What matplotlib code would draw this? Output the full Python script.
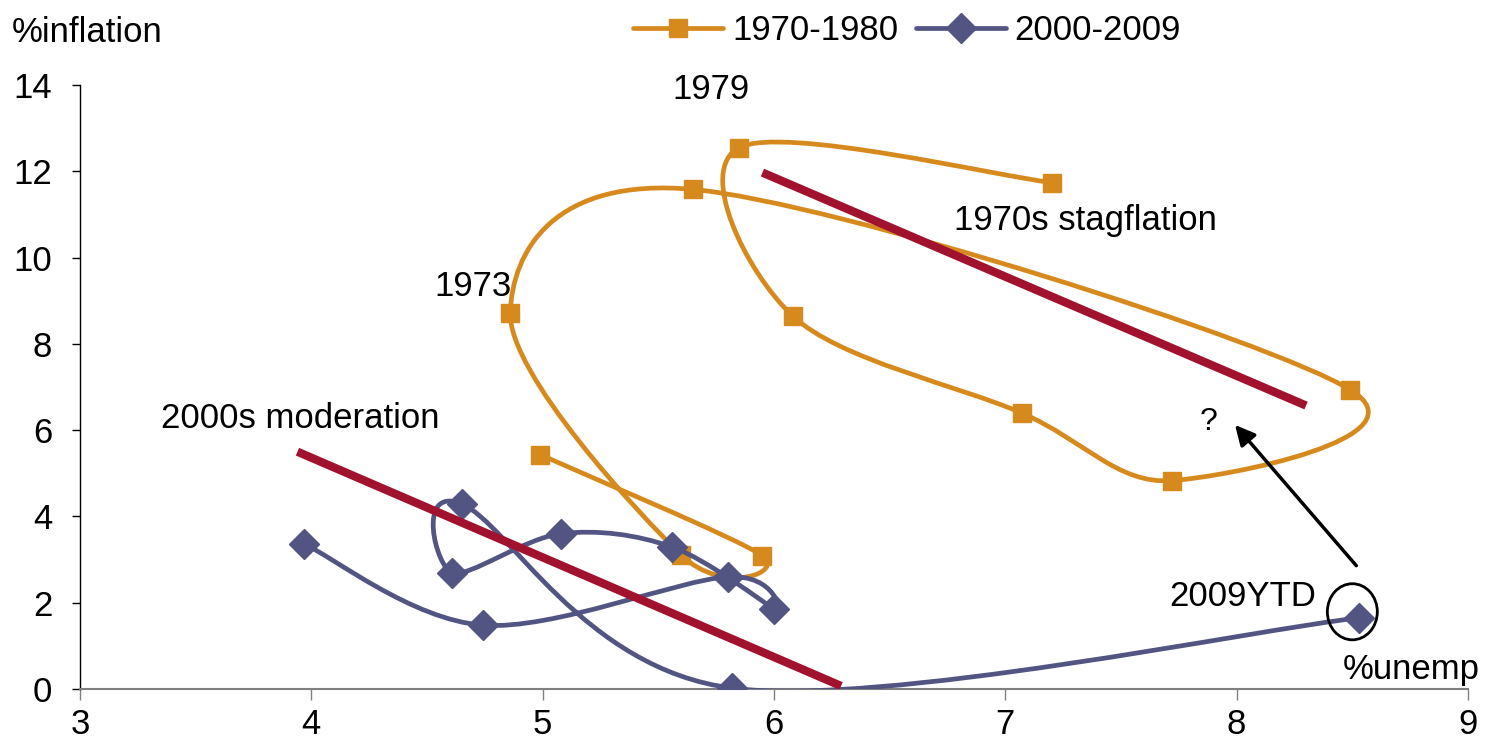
# -*- coding: utf-8 -*-
# phillips curve loops: 1970s vs 2000s, excel-style smoothed lines

import matplotlib
matplotlib.use('Agg')
import matplotlib.pyplot as plt
from matplotlib.path import Path
from matplotlib.patches import PathPatch, Ellipse
from matplotlib.lines import Line2D

plt.rcParams['font.family'] = ['Liberation Sans', 'DejaVu Sans']

# data: (unemployment %, inflation %)
unemp_70s = [4.99, 5.95, 5.60, 4.86, 5.65, 8.49, 7.72, 7.07, 6.08, 5.85, 7.20]
infl_70s = [5.43, 3.09, 3.10, 8.72, 11.58, 6.94, 4.83, 6.40, 8.65, 12.55, 11.74]

unemp_00s = [3.97, 4.74, 5.80, 6.00, 5.56, 5.08, 4.61, 4.65, 5.82, 8.53]
infl_00s = [3.36, 1.48, 2.60, 1.86, 3.29, 3.60, 2.69, 4.29, 0.02, 1.65]

# trend lines (start, end)
trend_70s_x = [5.95, 8.30]
trend_70s_y = [11.97, 6.57]
trend_00s_x = [3.94, 6.29]
trend_00s_y = [5.50, 0.07]

x_ticks = [3, 4, 5, 6, 7, 8, 9]
y_ticks = [0, 2, 4, 6, 8, 10, 12, 14]

ORANGE = '#D68A1E'
PURPLE = '#525482'
RED = '#A0122D'
FS = 25
LW = 3.4


def smooth_path(xs, ys):
    # catmull-rom -> cubic bezier, same idea as excel "smoothed line"
    pts = list(zip(xs, ys))
    n = len(pts)
    verts = [pts[0]]
    codes = [Path.MOVETO]
    for i in range(n - 1):
        p0 = pts[i - 1] if i > 0 else pts[i]
        p1 = pts[i]
        p2 = pts[i + 1]
        p3 = pts[i + 2] if i + 2 < n else pts[i + 1]
        c1 = (p1[0] + (p2[0] - p0[0]) / 6.0, p1[1] + (p2[1] - p0[1]) / 6.0)
        c2 = (p2[0] - (p3[0] - p1[0]) / 6.0, p2[1] - (p3[1] - p1[1]) / 6.0)
        verts += [c1, c2, p2]
        codes += [Path.CURVE4] * 3
    return Path(verts, codes)


fig = plt.figure(figsize=(14.86, 7.52), dpi=100)
ax = fig.add_axes([80 / 1486, 1 - 689 / 752, (1468 - 80) / 1486, (689 - 85) / 752])

ax.add_patch(PathPatch(smooth_path(unemp_70s, infl_70s), facecolor='none',
                       edgecolor=ORANGE, lw=LW, zorder=2, capstyle='round'))
ax.plot(unemp_70s, infl_70s, ls='none', marker='s', ms=13, color=ORANGE, zorder=3)

ax.add_patch(PathPatch(smooth_path(unemp_00s, infl_00s), facecolor='none',
                       edgecolor=PURPLE, lw=LW, zorder=4, capstyle='round'))
ax.plot(unemp_00s, infl_00s, ls='none', marker='D', ms=15, color=PURPLE, zorder=5)

ax.plot(trend_70s_x, trend_70s_y, color=RED, lw=6, solid_capstyle='butt', zorder=6)
ax.plot(trend_00s_x, trend_00s_y, color=RED, lw=6, solid_capstyle='butt', zorder=6)

ax.set_xlim(3, 9)
ax.set_ylim(0, 14)
ax.set_xticks(x_ticks)
ax.set_yticks(y_ticks)
ax.tick_params(axis='both', labelsize=FS)
ax.tick_params(axis='y', length=6, width=1, pad=14, colors='black')
ax.tick_params(axis='x', length=8, width=1, pad=6, color='#808080')
for s in ['top', 'right']:
    ax.spines[s].set_visible(False)
ax.spines['left'].set_linewidth(1)
ax.spines['bottom'].set_color('#808080')
ax.spines['bottom'].set_linewidth(1.5)

# labels on the chart
ax.text(5.56, 13.67, '1979', fontsize=FS, ha='left', va='baseline')
ax.text(4.53, 9.12, '1973', fontsize=FS, ha='left', va='baseline')
ax.text(6.78, 10.63, '1970s stagflation', fontsize=FS, ha='left', va='baseline')
ax.text(3.35, 6.06, '2000s moderation', fontsize=FS, ha='left', va='baseline')
ax.text(7.71, 1.93, '2009YTD', fontsize=FS, ha='left', va='baseline')
ax.text(8.46, 0.23, '%unemp', fontsize=FS, ha='left', va='baseline')
ax.text(7.84, 6.0, '?', fontsize=23, ha='left', va='baseline')

ax.annotate('', xy=(7.985, 6.17), xytext=(8.525, 2.81),
            arrowprops=dict(arrowstyle='-|>', lw=2.5, color='black', mutation_scale=30))
ax.add_patch(Ellipse((8.50, 1.79), 0.216, 1.3, facecolor='none', edgecolor='black',
                     lw=2, zorder=7))

fig.text(12 / 1486, 1 - 42 / 752, '%inflation', fontsize=FS, ha='left', va='baseline')

handles = [Line2D([], [], color=ORANGE, lw=LW, marker='s', ms=13, solid_capstyle='round'),
           Line2D([], [], color=PURPLE, lw=LW, marker='D', ms=15, solid_capstyle='round')]
fig.legend(handles, ['1970-1980', '2000-2009'], loc='center', ncol=2,
           bbox_to_anchor=(907 / 1486, 1 - 31 / 752), frameon=False, fontsize=FS,
           handlelength=2.6, handletextpad=0.25, columnspacing=0.5, borderpad=0)

fig.savefig('out.png', dpi=100)
plt.close(fig)
